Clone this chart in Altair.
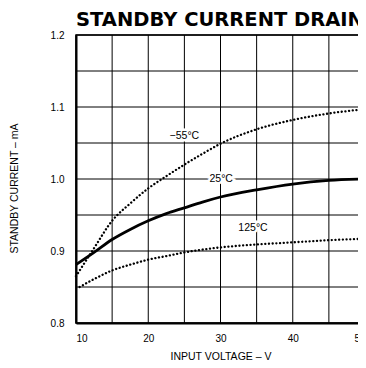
import altair as alt
import pandas as pd

# ---- data ----
voltage = [10, 12.5, 15, 17.5, 20, 22.5, 25, 27.5, 30, 35, 40, 45, 50]
cur_25c = [0.881, 0.898, 0.916, 0.930, 0.942, 0.952, 0.960, 0.968, 0.975, 0.985, 0.993, 0.998, 1.000]
cur_m55c = [0.865, 0.904, 0.942, 0.966, 0.987, 1.004, 1.020, 1.035, 1.049, 1.069, 1.082, 1.091, 1.097]
voltage_125 = [10.5, 12.5, 15, 17.5, 20, 22.5, 25, 27.5, 30, 35, 40, 45, 50]
cur_125c = [0.850, 0.861, 0.873, 0.881, 0.888, 0.893, 0.898, 0.902, 0.905, 0.909, 0.912, 0.915, 0.917]

label_text = ["\u221255\u00b0C", "25\u00b0C", "125\u00b0C"]
label_v = [25.0, 30.1, 34.5]
label_i = [1.060, 1.000, 0.932]

x_ticks = [10, 15, 20, 25, 30, 35, 40, 45, 50]
y_ticks = [0.8, 0.85, 0.9, 0.95, 1.0, 1.05, 1.1, 1.15, 1.2]
x_labels = [10, 20, 30, 40, 50]
y_labels = [0.8, 0.9, 1.0, 1.1, 1.2]

solid_df = pd.DataFrame({"V": voltage, "I": cur_25c, "s": "25"})
dot_df = pd.concat([
    pd.DataFrame({"V": voltage, "I": cur_m55c, "s": "-55"}),
    pd.DataFrame({"V": voltage_125, "I": cur_125c, "s": "125"}),
])
lab_df = pd.DataFrame({"t": label_text, "V": label_v, "I": label_i})

xs = alt.Scale(domain=[10, 50], nice=False, zero=False)
ys = alt.Scale(domain=[0.8, 1.2], nice=False, zero=False)

x_enc = alt.X("V:Q", scale=xs, axis=alt.Axis(
    values=x_labels, title="INPUT VOLTAGE \u2013 V", grid=False,
    labelPadding=10, titleY=33, titleBaseline="middle"))
y_enc = alt.Y("I:Q", scale=ys, axis=alt.Axis(
    values=y_labels, title="STANDBY CURRENT \u2013 mA", format=".1f", grid=False,
    labelPadding=12, titleX=-62, titleY=153, titleBaseline="middle", titleAngle=-90))

vgrid = alt.Chart(pd.DataFrame({"V": x_ticks})).mark_rule(
    color="black", strokeWidth=1
).encode(x=alt.X("V:Q", scale=xs))
hgrid = alt.Chart(pd.DataFrame({"I": y_ticks})).mark_rule(
    color="black", strokeWidth=1
).encode(y=alt.Y("I:Q", scale=ys))

solid = alt.Chart(solid_df).mark_line(
    color="black", strokeWidth=2.8, interpolate="monotone"
).encode(x=x_enc, y=y_enc)

dotted = alt.Chart(dot_df).mark_line(
    color="black", strokeWidth=2.3, strokeCap="round", strokeDash=[0.1, 3.6],
    interpolate="monotone"
).encode(x=x_enc, y=y_enc, detail="s:N")

halo = alt.Chart(lab_df).mark_text(
    font="Liberation Sans", fontSize=10.5, color="white", stroke="white", strokeWidth=5
).encode(x=alt.X("V:Q", scale=xs), y=alt.Y("I:Q", scale=ys), text="t:N")

labels = alt.Chart(lab_df).mark_text(
    font="Liberation Sans", fontSize=10.5, color="black"
).encode(x=alt.X("V:Q", scale=xs), y=alt.Y("I:Q", scale=ys), text="t:N")

chart = alt.layer(vgrid, hgrid, solid, dotted, halo, labels).properties(
    width=289, height=288,
    title=alt.TitleParams("STANDBY CURRENT DRAIN", anchor="start", frame="group",
                          font="DejaVu Sans", fontSize=19.5, fontWeight="bold",
                          color="black", offset=0),
    autosize=alt.AutoSizeParams(type="none"),
    padding={"left": 68, "top": 27, "right": -7, "bottom": 37},
).configure_view(
    stroke="black", strokeWidth=1.5
).configure_axis(
    domainColor="black", domainWidth=2,
    ticks=False, labelFont="Liberation Sans", labelFontSize=10, labelColor="black",
    titleFont="Liberation Sans", titleFontSize=10.5, titleFontWeight="normal", titleColor="black"
)

chart.save("out.html", embed_options={"renderer": "svg", "actions": False})
